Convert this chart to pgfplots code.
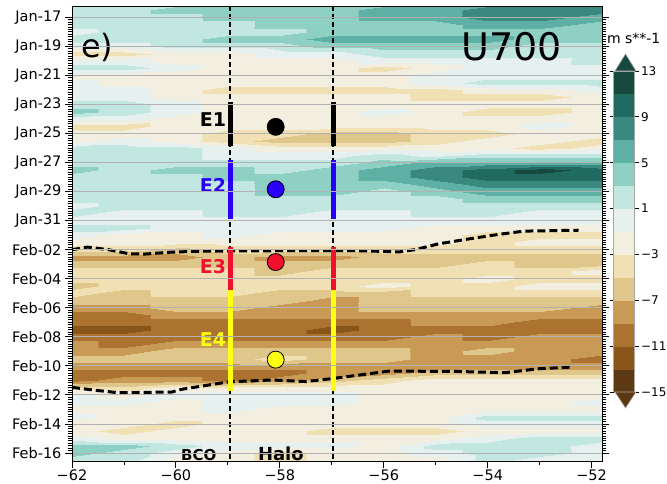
\documentclass[border=0pt]{standalone}
\usepackage{fontspec}
\setmainfont{DejaVu Sans}
\usepackage{pgfplots}
\usepackage{pgfplotstable}
\pgfplotsset{compat=1.18}
\definecolor{cblue}{RGB}{40,0,250}
\definecolor{cred}{RGB}{240,15,45}
\definecolor{cyel}{RGB}{255,255,20}
\definecolor{gridgray}{RGB}{178,178,178}
\definecolor{cbtop}{RGB}{23,73,63}
\definecolor{cbbot}{RGB}{92,57,18}
\pgfplotsset{colormap={brbg}{
rgb255=(92,57,18)
rgb255=(138,85,25)
rgb255=(172,114,47)
rgb255=(200,154,85)
rgb255=(223,198,138)
rgb255=(240,224,180)
rgb255=(243,239,224)
rgb255=(230,241,239)
rgb255=(194,230,224)
rgb255=(143,208,196)
rgb255=(95,176,164)
rgb255=(58,137,127)
rgb255=(33,106,96)
rgb255=(23,73,63)
}}
\pgfplotstableread{
x y z
-62 -1 2
-61 -1 2
-60 -1 2
-59 -1 4
-58 -1 4
-57 -1 4
-56 -1 4
-55 -1 6
-54 -1 6
-53 -1 6
-51.8 -1 6
-62 -0.5 2
-61 -0.5 2
-60 -0.5 4
-59 -0.5 4
-58 -0.5 4
-57 -0.5 4
-56 -0.5 6
-55 -0.5 6
-54 -0.5 8
-53 -0.5 8
-51.8 -0.5 8
-62 0 2
-61 0 2
-60 0 2
-59 0 4
-58 0 4
-57 0 4
-56 0 6
-55 0 6
-54 0 8
-53 0 8
-51.8 0 6
-62 0.5 2
-61 0.5 2
-60 0.5 2
-59 0.5 2
-58 0.5 4
-57 0.5 4
-56 0.5 4
-55 0.5 4
-54 0.5 6
-53 0.5 6
-51.8 0.5 4
-62 1 0
-61 1 2
-60 1 2
-59 1 2
-58 1 2
-57 1 4
-56 1 4
-55 1 4
-54 1 4
-53 1 4
-51.8 1 4
-62 1.5 2
-61 1.5 2
-60 1.5 2
-59 1.5 4
-58 1.5 4
-57 1.5 6
-56 1.5 6
-55 1.5 6
-54 1.5 6
-53 1.5 4
-51.8 1.5 4
-62 2 0
-61 2 0
-60 2 2
-59 2 2
-58 2 2
-57 2 4
-56 2 4
-55 2 4
-54 2 4
-53 2 2
-51.8 2 2
-62 2.5 -4
-61 2.5 -4
-60 2.5 -2
-59 2.5 -2
-58 2.5 0
-57 2.5 0
-56 2.5 2
-55 2.5 2
-54 2.5 2
-53 2.5 2
-51.8 2.5 2
-62 3 0
-61 3 0
-60 3 -2
-59 3 -2
-58 3 -2
-57 3 -2
-56 3 0
-55 3 0
-54 3 0
-53 3 0
-51.8 3 2
-62 3.5 2
-61 3.5 2
-60 3.5 0
-59 3.5 -2
-58 3.5 -2
-57 3.5 -2
-56 3.5 -4
-55 3.5 -2
-54 3.5 0
-53 3.5 0
-51.8 3.5 0
-62 4 -2
-61 4 -2
-60 4 -2
-59 4 -2
-58 4 -2
-57 4 -2
-56 4 -2
-55 4 0
-54 4 0
-53 4 0
-51.8 4 0
-62 4.5 0
-61 4.5 -2
-60 4.5 -2
-59 4.5 -2
-58 4.5 -2
-57 4.5 -2
-56 4.5 -2
-55 4.5 0
-54 4.5 2
-53 4.5 2
-51.8 4.5 2
-62 5 0
-61 5 0
-60 5 -2
-59 5 -4
-58 5 -4
-57 5 -4
-56 5 -4
-55 5 -4
-54 5 -2
-53 5 -2
-51.8 5 0
-62 5.5 0
-61 5.5 0
-60 5.5 -2
-59 5.5 -2
-58 5.5 -2
-57 5.5 -2
-56 5.5 -2
-55 5.5 -4
-54 5.5 -4
-53 5.5 -4
-51.8 5.5 -2
-62 6 2
-61 6 2
-60 6 0
-59 6 -2
-58 6 -2
-57 6 -2
-56 6 -2
-55 6 -2
-54 6 -2
-53 6 -2
-51.8 6 -2
-62 6.5 4
-61 6.5 2
-60 6.5 0
-59 6.5 -2
-58 6.5 -2
-57 6.5 -2
-56 6.5 0
-55 6.5 -2
-54 6.5 -4
-53 6.5 -4
-51.8 6.5 -2
-62 7 0
-61 7 0
-60 7 -2
-59 7 -2
-58 7 -2
-57 7 -2
-56 7 -2
-55 7 -2
-54 7 -2
-53 7 -2
-51.8 7 -2
-62 7.5 -4
-61 7.5 -4
-60 7.5 -2
-59 7.5 -2
-58 7.5 -2
-57 7.5 -2
-56 7.5 -2
-55 7.5 -2
-54 7.5 -2
-53 7.5 0
-51.8 7.5 -2
-62 8 -2
-61 8 -2
-60 8 -2
-59 8 -4
-58 8 -4
-57 8 -6
-56 8 -6
-55 8 -4
-54 8 -4
-53 8 -2
-51.8 8 -2
-62 8.5 -2
-61 8.5 0
-60 8.5 -2
-59 8.5 -4
-58 8.5 -6
-57 8.5 -6
-56 8.5 -6
-55 8.5 -4
-54 8.5 -2
-53 8.5 -2
-51.8 8.5 -4
-62 9 2
-61 9 2
-60 9 2
-59 9 0
-58 9 -2
-57 9 -2
-56 9 -2
-55 9 -2
-54 9 -2
-53 9 -4
-51.8 9 -2
-62 9.5 2
-61 9.5 2
-60 9.5 2
-59 9.5 0
-58 9.5 0
-57 9.5 0
-56 9.5 2
-55 9.5 0
-54 9.5 2
-53 9.5 2
-51.8 9.5 2
-62 10 2
-61 10 2
-60 10 2
-59 10 2
-58 10 2
-57 10 2
-56 10 4
-55 10 6
-54 10 6
-53 10 6
-51.8 10 6
-62 10.5 4
-61 10.5 2
-60 10.5 4
-59 10.5 4
-58 10.5 2
-57 10.5 4
-56 10.5 6
-55 10.5 8
-54 10.5 10
-53 10.5 12
-51.8 10.5 10
-62 11 2
-61 11 2
-60 11 2
-59 11 4
-58 11 4
-57 11 4
-56 11 6
-55 11 8
-54 11 10
-53 11 10
-51.8 11 10
-62 11.5 2
-61 11.5 2
-60 11.5 2
-59 11.5 2
-58 11.5 4
-57 11.5 4
-56 11.5 4
-55 11.5 6
-54 11.5 8
-53 11.5 8
-51.8 11.5 8
-62 12 2
-61 12 2
-60 12 2
-59 12 2
-58 12 4
-57 12 4
-56 12 2
-55 12 4
-54 12 6
-53 12 6
-51.8 12 6
-62 12.5 2
-61 12.5 2
-60 12.5 2
-59 12.5 2
-58 12.5 2
-57 12.5 2
-56 12.5 2
-55 12.5 2
-54 12.5 4
-53 12.5 4
-51.8 12.5 4
-62 13 0
-61 13 2
-60 13 2
-59 13 2
-58 13 2
-57 13 2
-56 13 2
-55 13 2
-54 13 2
-53 13 2
-51.8 13 2
-62 13.5 2
-61 13.5 0
-60 13.5 0
-59 13.5 2
-58 13.5 2
-57 13.5 0
-56 13.5 0
-55 13.5 2
-54 13.5 2
-53 13.5 0
-51.8 13.5 0
-62 14 0
-61 14 0
-60 14 0
-59 14 0
-58 14 0
-57 14 0
-56 14 0
-55 14 0
-54 14 0
-53 14 0
-51.8 14 0
-62 14.5 2
-61 14.5 2
-60 14.5 0
-59 14.5 0
-58 14.5 0
-57 14.5 0
-56 14.5 0
-55 14.5 -2
-54 14.5 -2
-53 14.5 -2
-51.8 14.5 -2
-62 15 0
-61 15 -2
-60 15 -2
-59 15 0
-58 15 -2
-57 15 -2
-56 15 -2
-55 15 -2
-54 15 -4
-53 15 -4
-51.8 15 -4
-62 15.5 -2
-61 15.5 -2
-60 15.5 -2
-59 15.5 -2
-58 15.5 -2
-57 15.5 -2
-56 15.5 -2
-55 15.5 -2
-54 15.5 -4
-53 15.5 -2
-51.8 15.5 -2
-62 16 -4
-61 16 -4
-60 16 -6
-59 16 -4
-58 16 -4
-57 16 -4
-56 16 -4
-55 16 -4
-54 16 -4
-53 16 -4
-51.8 16 -4
-62 16.5 -8
-61 16.5 -8
-60 16.5 -8
-59 16.5 -6
-58 16.5 -8
-57 16.5 -8
-56 16.5 -6
-55 16.5 -6
-54 16.5 -6
-53 16.5 -6
-51.8 16.5 -6
-62 17 -6
-61 17 -6
-60 17 -6
-59 17 -6
-58 17 -6
-57 17 -6
-56 17 -6
-55 17 -6
-54 17 -4
-53 17 -6
-51.8 17 -6
-62 17.5 -4
-61 17.5 -4
-60 17.5 -4
-59 17.5 -4
-58 17.5 -6
-57 17.5 -4
-56 17.5 -4
-55 17.5 -4
-54 17.5 -4
-53 17.5 -4
-51.8 17.5 -2
-62 18 -4
-61 18 -4
-60 18 -4
-59 18 -4
-58 18 -4
-57 18 -4
-56 18 -4
-55 18 -4
-54 18 -2
-53 18 -4
-51.8 18 -4
-62 18.5 -6
-61 18.5 -4
-60 18.5 -4
-59 18.5 -4
-58 18.5 -4
-57 18.5 -4
-56 18.5 -2
-55 18.5 -4
-54 18.5 -4
-53 18.5 -2
-51.8 18.5 -2
-62 19 -4
-61 19 -6
-60 19 -4
-59 19 -4
-58 19 -6
-57 19 -6
-56 19 -6
-55 19 -4
-54 19 -4
-53 19 -4
-51.8 19 -4
-62 19.5 -6
-61 19.5 -6
-60 19.5 -6
-59 19.5 -6
-58 19.5 -6
-57 19.5 -8
-56 19.5 -6
-55 19.5 -6
-54 19.5 -6
-53 19.5 -6
-51.8 19.5 -6
-62 20 -8
-61 20 -8
-60 20 -6
-59 20 -6
-58 20 -8
-57 20 -8
-56 20 -6
-55 20 -6
-54 20 -6
-53 20 -6
-51.8 20 -8
-62 20.5 -10
-61 20.5 -10
-60 20.5 -8
-59 20.5 -8
-58 20.5 -8
-57 20.5 -8
-56 20.5 -8
-55 20.5 -8
-54 20.5 -8
-53 20.5 -8
-51.8 20.5 -8
-62 21 -10
-61 21 -10
-60 21 -10
-59 21 -10
-58 21 -10
-57 21 -10
-56 21 -10
-55 21 -8
-54 21 -8
-53 21 -10
-51.8 21 -10
-62 21.5 -12
-61 21.5 -12
-60 21.5 -10
-59 21.5 -10
-58 21.5 -10
-57 21.5 -12
-56 21.5 -10
-55 21.5 -10
-54 21.5 -10
-53 21.5 -10
-51.8 21.5 -10
-62 22 -10
-61 22 -10
-60 22 -10
-59 22 -10
-58 22 -10
-57 22 -10
-56 22 -10
-55 22 -8
-54 22 -10
-53 22 -8
-51.8 22 -8
-62 22.5 -8
-61 22.5 -10
-60 22.5 -8
-59 22.5 -8
-58 22.5 -8
-57 22.5 -8
-56 22.5 -8
-55 22.5 -8
-54 22.5 -8
-53 22.5 -8
-51.8 22.5 -8
-62 23 -8
-61 23 -8
-60 23 -6
-59 23 -6
-58 23 -6
-57 23 -6
-56 23 -6
-55 23 -8
-54 23 -6
-53 23 -8
-51.8 23 -8
-62 23.5 -6
-61 23.5 -6
-60 23.5 -6
-59 23.5 -6
-58 23.5 -4
-57 23.5 -6
-56 23.5 -6
-55 23.5 -8
-54 23.5 -8
-53 23.5 -8
-51.8 23.5 -10
-62 24 -8
-61 24 -8
-60 24 -8
-59 24 -8
-58 24 -8
-57 24 -8
-56 24 -8
-55 24 -8
-54 24 -8
-53 24 -8
-51.8 24 -8
-62 24.5 -10
-61 24.5 -10
-60 24.5 -10
-59 24.5 -10
-58 24.5 -10
-57 24.5 -8
-56 24.5 -8
-55 24.5 -6
-54 24.5 -6
-53 24.5 -6
-51.8 24.5 -6
-62 25 -10
-61 25 -8
-60 25 -8
-59 25 -10
-58 25 -8
-57 25 -6
-56 25 -4
-55 25 -2
-54 25 -2
-53 25 -2
-51.8 25 -2
-62 25.5 -4
-61 25.5 -4
-60 25.5 -2
-59 25.5 -2
-58 25.5 -2
-57 25.5 -2
-56 25.5 -2
-55 25.5 -2
-54 25.5 -2
-53 25.5 -2
-51.8 25.5 -2
-62 26 0
-61 26 -2
-60 26 0
-59 26 0
-58 26 0
-57 26 0
-56 26 -2
-55 26 -2
-54 26 -2
-53 26 -2
-51.8 26 -2
-62 26.5 0
-61 26.5 0
-60 26.5 -2
-59 26.5 0
-58 26.5 0
-57 26.5 0
-56 26.5 -2
-55 26.5 -2
-54 26.5 -2
-53 26.5 -2
-51.8 26.5 0
-62 27 -2
-61 27 -2
-60 27 -2
-59 27 0
-58 27 -2
-57 27 -2
-56 27 -2
-55 27 -2
-54 27 -2
-53 27 -2
-51.8 27 -2
-62 27.5 0
-61 27.5 -2
-60 27.5 -2
-59 27.5 -2
-58 27.5 -2
-57 27.5 -2
-56 27.5 -2
-55 27.5 -2
-54 27.5 2
-53 27.5 2
-51.8 27.5 2
-62 28 -2
-61 28 -2
-60 28 -4
-59 28 -2
-58 28 -2
-57 28 -2
-56 28 -2
-55 28 -2
-54 28 0
-53 28 0
-51.8 28 0
-62 28.5 -2
-61 28.5 -4
-60 28.5 -2
-59 28.5 -2
-58 28.5 -2
-57 28.5 -4
-56 28.5 -4
-55 28.5 -4
-54 28.5 -2
-53 28.5 -2
-51.8 28.5 -2
-62 29 0
-61 29 -2
-60 29 -2
-59 29 -2
-58 29 -2
-57 29 -2
-56 29 -2
-55 29 -2
-54 29 0
-53 29 2
-51.8 29 2
-62 29.5 4
-61 29.5 4
-60 29.5 2
-59 29.5 0
-58 29.5 0
-57 29.5 0
-56 29.5 -2
-55 29.5 2
-54 29.5 2
-53 29.5 2
-51.8 29.5 0
-62 30 4
-61 30 2
-60 30 0
-59 30 -2
-58 30 -4
-57 30 -2
-56 30 -2
-55 30 0
-54 30 2
-53 30 2
-51.8 30 0
-62 30.5 2
-61 30.5 2
-60 30.5 -2
-59 30.5 -2
-58 30.5 -4
-57 30.5 -2
-56 30.5 -2
-55 30.5 -2
-54 30.5 2
-53 30.5 0
-51.8 30.5 0
-62 31 2
-61 31 2
-60 31 -2
-59 31 -2
-58 31 -4
-57 31 -2
-56 31 -2
-55 31 -2
-54 31 2
-53 31 0
-51.8 31 0
}\ufield
\begin{document}
\begin{tikzpicture}
\begin{axis}[
  name=main, at={(0pt,0pt)}, anchor=south west,
  scale only axis, width=530pt, height=455pt,
  axis on top,
  xmin=-62, xmax=-51.8, ymin=-0.78, ymax=30.55,
  y dir=reverse,
  colormap name=brbg, colormap access=piecewise constant,
  point meta min=-15, point meta max=13,
  xtick={-62,-60,-58,-56,-54,-52},
  xticklabels={−62,−60,−58,−56,−54,−52},
  minor xtick={-61,-59,-57,-55,-53},
  ytick={0,2,...,30},
  yticklabels={Jan-17,Jan-19,Jan-21,Jan-23,Jan-25,Jan-27,Jan-29,Jan-31,Feb-02,Feb-04,Feb-06,Feb-08,Feb-10,Feb-12,Feb-14,Feb-16},
  minor y tick num=11,
  tick align=outside,
  xtick pos=bottom, ytick pos=both, yticklabel pos=left,
  major tick length=7pt, minor tick length=3.5pt,
  tick style={black, line width=0.9pt},
  ymajorgrids, major grid style={gridgray, line width=0.9pt},
  axis line style={black, line width=0.9pt},
  xticklabel style={font=\fontsize{14.5}{16}\selectfont, yshift=2pt},
  yticklabel style={font=\fontsize{14.5}{17}\selectfont},
  colorbar,
  colorbar style={
    at={(parent axis.south east)}, anchor=south west,
    xshift=3pt, yshift=69pt,
    scale only axis, width=21pt, height=321pt,
    ytick={-15,-11,-7,-3,1,5,9,13},
    yticklabels={−15,−11,−7,−3,1,5,9,13},
    yticklabel style={font=\fontsize{12}{13}\selectfont, xshift=-1pt},
    tick align=outside, major tick length=4pt,
    ytick style={black, line width=0.8pt},
    axis line style={gray!70, line width=0.6pt},
  },
]
\addplot[surf, shader=interp, mesh/cols=11, point meta=explicit] table[x=x, y=y, meta=z] {\ufield};
% station lines
\addplot[black, line width=2pt, dash pattern=on 5pt off 3pt] coordinates {(-58.95,-0.78) (-58.95,30.55)};
\addplot[black, line width=2pt, dash pattern=on 5pt off 3pt] coordinates {(-56.97,-0.78) (-56.97,30.55)};
% boundaries
\addplot[black, line width=3pt, dash pattern=on 8pt off 4pt] coordinates {
(-62,16.0) (-61.7,15.82) (-61.3,16.0) (-60.9,16.28) (-60.6,16.3) (-60.1,16.17) (-59.5,16.1) (-58,16.07) (-56.5,16.07) (-56,16.12) (-55.7,16.15) (-55.4,16.0) (-54.95,15.6) (-54.4,15.28) (-53.8,14.95) (-53.3,14.72) (-52.25,14.66)};
\addplot[black, line width=3pt, dash pattern=on 8pt off 4pt] coordinates {
(-62,25.48) (-61.5,25.7) (-61.1,25.85) (-60.08,25.8) (-59.9,25.62) (-58.99,25.1) (-58.15,24.97) (-57.5,25.08) (-57.0,24.88) (-55.9,24.36) (-54.63,24.38) (-53.67,24.47) (-53.03,24.2) (-52.38,24.08)};
% event segments
\addplot[black, line width=4.5pt] coordinates {(-58.95,5.82) (-58.95,8.88)};
\addplot[black, line width=4.5pt] coordinates {(-56.97,5.82) (-56.97,8.88)};
\addplot[cblue, line width=4.5pt] coordinates {(-58.95,9.8) (-58.95,13.86)};
\addplot[cblue, line width=4.5pt] coordinates {(-56.97,9.8) (-56.97,13.86)};
\addplot[cred, line width=4.5pt] coordinates {(-58.95,15.82) (-58.95,18.76)};
\addplot[cred, line width=4.5pt] coordinates {(-56.97,15.82) (-56.97,18.76)};
\addplot[cyel, line width=4.5pt] coordinates {(-58.95,18.76) (-58.95,25.7)};
\addplot[cyel, line width=4.5pt] coordinates {(-56.97,18.76) (-56.97,25.7)};
% markers
\addplot[only marks, mark=*, mark size=8.5pt, mark options={fill=black, draw=black, line width=0.8pt}] coordinates {(-58.08,7.54)};
\addplot[only marks, mark=*, mark size=8.5pt, mark options={fill=cblue, draw=black, line width=0.8pt}] coordinates {(-58.08,11.84)};
\addplot[only marks, mark=*, mark size=8.5pt, mark options={fill=cred, draw=black, line width=0.8pt}] coordinates {(-58.08,16.85)};
\addplot[only marks, mark=*, mark size=8.5pt, mark options={fill=cyel, draw=black, line width=0.8pt}] coordinates {(-58.08,23.57)};
% labels
\node[anchor=east, inner sep=0pt, font=\fontsize{19}{20}\bfseries, text=black] at (axis cs:-59.03,7.02) {E1};
\node[anchor=east, inner sep=0pt, font=\fontsize{19}{20}\bfseries, text=cblue] at (axis cs:-59.03,11.57) {E2};
\node[anchor=east, inner sep=0pt, font=\fontsize{19}{20}\bfseries, text=cred] at (axis cs:-59.03,17.13) {E3};
\node[anchor=east, inner sep=0pt, font=\fontsize{19}{20}\bfseries, text=cyel] at (axis cs:-59.03,22.19) {E4};
\node[anchor=west, inner sep=0pt, font=\fontsize{32}{34}\selectfont] at (axis cs:-61.83,2.05) {e)};
\node[anchor=center, inner sep=0pt, font=\fontsize{38}{40}\selectfont] at (axis cs:-53.54,2.05) {U700};
\node[anchor=base, inner sep=0pt, font=\fontsize{15}{16}\bfseries] at (axis cs:-59.56,30.53) {BCO};
\node[anchor=base, inner sep=0pt, font=\fontsize{18}{19}\bfseries] at (axis cs:-57.98,30.53) {Halo};
\end{axis}
\filldraw[fill=cbtop, draw=gray!70, line width=0.6pt] (543pt,390pt) -- (553.5pt,407pt) -- (564pt,390pt) -- cycle;
\filldraw[fill=cbbot, draw=gray!70, line width=0.6pt] (543pt,69pt) -- (553.5pt,53pt) -- (564pt,69pt) -- cycle;
\node[font=\fontsize{14}{15}\selectfont, inner sep=0pt] at (561.7pt,423pt) {m s**-1};
\pgfresetboundingbox
\path[use as bounding box] (-72pt,-22pt) rectangle (595pt,461pt);
\end{tikzpicture}
\end{document}
